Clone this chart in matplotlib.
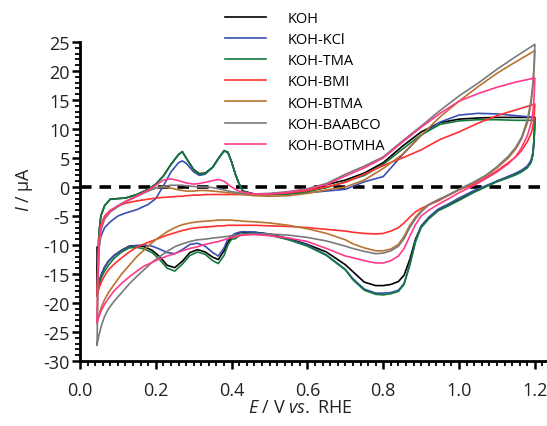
import matplotlib
matplotlib.use("Agg")
import matplotlib.pyplot as plt
from matplotlib.ticker import MultipleLocator

plt.rcParams['font.family'] = ['Open Sans', 'DejaVu Sans']
plt.rcParams['mathtext.fontset'] = 'custom'
plt.rcParams['mathtext.it'] = 'Open Sans:italic'
plt.rcParams['mathtext.rm'] = 'Open Sans'

labels = ["KOH", "KOH-KCl", "KOH-TMA", "KOH-BMI", "KOH-BTMA", "KOH-BAABCO", "KOH-BOTMHA"]
colors = ["#000000", "#3a4fb0", "#137a3c", "#ff3030", "#b87330", "#7a7a7a", "#ff3a8a"]

# anodic sweep potentials (V vs RHE)
E_anodic = [0.045, 0.047, 0.05, 0.055, 0.065, 0.08, 0.10, 0.12, 0.15, 0.18, 0.20, 0.22, 0.24, 0.26,
            0.27, 0.28, 0.30, 0.315, 0.33, 0.35, 0.365, 0.38, 0.39, 0.40, 0.41, 0.42, 0.43, 0.46,
            0.50, 0.55, 0.60, 0.65, 0.70, 0.75, 0.80, 0.85, 0.90, 0.95, 1.00, 1.05, 1.10, 1.15, 1.20]
# cathodic sweep potentials
E_cathodic = [1.20, 1.198, 1.195, 1.19, 1.18, 1.165, 1.15, 1.13, 1.10, 1.07, 1.04, 1.00, 0.97, 0.945,
              0.92, 0.90, 0.885, 0.87, 0.855, 0.84, 0.82, 0.80, 0.78, 0.75, 0.72, 0.70, 0.65, 0.60,
              0.55, 0.50, 0.46, 0.43, 0.42, 0.41, 0.40, 0.39, 0.38, 0.365, 0.35, 0.33, 0.31, 0.29,
              0.27, 0.25, 0.23, 0.21, 0.19, 0.17, 0.15, 0.13, 0.11, 0.09, 0.075, 0.065, 0.057, 0.05,
              0.047, 0.045]

# currents (uA), anodic sweeps
I_koh_a = [-17.2, -13, -8.0, -5.0, -3.2, -2.1, -2.0, -1.9, -1.3, -0.4, 0.5, 1.9, 3.9, 5.6,
           6.1, 5.0, 3.0, 2.3, 2.4, 3.4, 4.9, 6.2, 6.0, 4.3, 2.2, 0.5, -0.7, -1.2,
           -1.2, -1.0, -0.4, 0.4, 1.2, 2.4, 4.2, 7.0, 9.5, 11.1, 11.7, 11.9, 12.0, 12.0, 12.0]
I_kcl_a = [-18.3, -14, -10.5, -8.5, -7.0, -6.0, -5.0, -4.5, -3.9, -3.0, -2.0, 0.2, 2.6, 4.2,
           4.5, 4.1, 2.6, 2.0, 2.2, 3.4, 4.9, 6.2, 6.0, 4.3, 2.2, 0.5, -0.8, -1.3,
           -1.3, -1.2, -1.0, -0.7, -0.4, 0.9, 1.8, 5.5, 8.9, 11.2, 12.4, 12.7, 12.6, 12.3, 12.0]
I_tma_a = [-18.8, -13, -8.0, -5.0, -3.2, -2.1, -2.0, -1.9, -1.3, -0.4, 0.5, 1.9, 3.9, 5.6,
           6.1, 5.0, 2.9, 2.2, 2.3, 3.4, 4.9, 6.3, 6.0, 4.3, 2.2, 0.5, -0.8, -1.3,
           -1.3, -1.2, -0.8, -0.1, 0.9, 2.0, 3.9, 6.5, 9.0, 10.8, 11.4, 11.6, 11.6, 11.5, 11.5]
I_bmi_a = [-18.5, -13, -9.0, -6.5, -5.0, -4.0, -3.3, -2.8, -2.4, -2.1, -1.9, -1.8, -1.7, -1.6,
           -1.6, -1.5, -1.4, -1.4, -1.3, -1.3, -1.3, -1.3, -1.3, -1.3, -1.3, -1.3, -1.3, -1.3,
           -1.2, -1.0, -0.6, 0.0, 0.8, 2.2, 3.7, 5.0, 6.4, 8.2, 9.5, 11.0, 12.3, 13.3, 14.3]
I_btma_a = [-23.5, -16, -10, -7.0, -5.3, -4.2, -3.3, -2.5, -1.5, -0.6, -0.1, 0.0, -0.2, -0.5,
            -0.6, -0.7, -0.7, -0.6, -0.6, -0.7, -0.8, -0.9, -1.0, -1.0, -1.1, -1.2, -1.3, -1.5,
            -1.6, -1.5, -1.1, -0.5, 0.0, 1.2, 3.2, 5.6, 8.9, 12.1, 14.8, 17.3, 19.6, 21.6, 23.5]
I_baabco_a = [-27.2, -18, -11, -7.5, -5.5, -4.3, -3.4, -2.6, -1.6, -0.7, -0.2, 0.1, 0.3, 0.3,
              0.3, 0.2, 0.1, 0.0, 0.0, -0.1, -0.3, -0.5, -0.7, -0.8, -0.9, -1.0, -1.1, -1.2,
              -1.1, -0.8, -0.3, 0.6, 2.2, 3.6, 5.2, 7.9, 10.5, 13.2, 15.7, 17.9, 20.3, 22.5, 24.6]
I_botmha_a = [-23.2, -16, -10, -7.0, -5.3, -4.1, -3.2, -2.5, -1.6, -0.6, 0.3, 1.2, 1.4, 1.1,
              0.9, 0.7, 0.5, 0.6, 0.8, 1.1, 1.3, 1.0, 0.5, 0.0, -0.4, -0.7, -0.9, -1.2,
              -1.2, -0.9, -0.4, 0.4, 1.9, 3.3, 5.0, 7.7, 10.3, 12.7, 14.8, 16.1, 17.2, 18.1, 18.8]

# currents (uA), cathodic sweeps
I_koh_c = [12.0, 8.3, 5.8, 4.4, 3.5, 2.8, 2.3, 1.8, 1.0, 0.1, -0.8, -2.2, -3.2, -4.0,
           -5.4, -6.8, -9.0, -12.5, -15.2, -16.3, -16.8, -17.0, -17.0, -16.4, -14.6, -13.4, -11.2, -9.9,
           -8.9, -8.1, -7.8, -7.8, -7.9, -8.3, -8.7, -9.5, -11.0, -12.5, -12.1, -11.2, -10.8, -11.3,
           -12.8, -13.9, -13.5, -12.0, -10.9, -10.3, -10.1, -10.2, -10.9, -11.8, -12.8, -13.8, -15.0, -16.3,
           -17.0, -17.2]
I_kcl_c = [12.0, 8.5, 6.0, 4.6, 3.6, 2.9, 2.4, 1.8, 1.0, 0.2, -0.6, -1.9, -3.0, -3.8,
           -5.2, -6.7, -9.3, -13.3, -16.6, -17.8, -18.2, -18.3, -18.3, -17.6, -15.8, -14.2, -11.7, -10.0,
           -9.0, -8.2, -7.8, -7.7, -7.8, -8.0, -8.4, -9.0, -10.5, -11.9, -11.3, -10.2, -9.7, -9.9,
           -10.8, -11.5, -11.3, -10.7, -10.2, -10.0, -10.1, -10.3, -10.9, -11.8, -12.8, -13.8, -15.0, -16.5,
           -17.5, -18.3]
I_tma_c = [11.5, 8.0, 5.5, 4.2, 3.3, 2.6, 2.1, 1.6, 0.9, 0.0, -0.9, -2.3, -3.3, -4.1,
           -5.5, -7.0, -9.5, -13.5, -16.8, -18.0, -18.4, -18.6, -18.5, -17.8, -16.0, -14.3, -11.8, -10.2,
           -9.1, -8.3, -8.0, -8.1, -8.4, -8.9, -9.0, -10.0, -11.8, -13.2, -12.7, -11.6, -11.2, -11.8,
           -13.3, -14.5, -14.0, -12.5, -11.3, -10.7, -10.4, -10.5, -11.2, -12.3, -13.5, -14.5, -15.5, -17.0,
           -18.0, -18.8]
I_bmi_c = [14.3, 12.0, 10.5, 9.2, 7.8, 6.3, 5.2, 4.2, 2.8, 1.6, 0.5, -0.5, -1.5, -2.4,
           -3.1, -3.7, -4.3, -5.2, -6.2, -7.0, -7.6, -8.0, -8.1, -8.0, -7.8, -7.6, -7.3, -7.0,
           -6.8, -6.7, -6.6, -6.6, -6.6, -6.6, -6.6, -6.6, -6.7, -6.7, -6.8, -6.9, -7.0, -7.2,
           -7.5, -7.9, -8.3, -8.8, -9.3, -9.8, -10.4, -11.2, -12.2, -13.3, -14.3, -15.3, -16.3, -17.5,
           -18.2, -18.5]
I_btma_c = [23.5, 20.5, 17.5, 14.5, 11.0, 8.3, 6.6, 5.0, 3.3, 1.9, 0.8, -0.5, -1.5, -2.2,
            -3.0, -4.1, -5.2, -6.6, -8.5, -9.9, -10.7, -11.0, -11.0, -10.5, -9.8, -9.1, -8.0, -7.2,
            -6.6, -6.2, -6.0, -5.9, -5.8, -5.8, -5.7, -5.7, -5.7, -5.7, -5.8, -5.9, -6.0, -6.2,
            -6.5, -7.0, -7.7, -8.6, -9.6, -10.8, -12.0, -13.5, -15.0, -16.8, -18.2, -19.4, -20.6, -22.0,
            -23.0, -23.5]
I_baabco_c = [24.6, 21.0, 18.0, 15.0, 11.5, 8.6, 6.9, 5.3, 3.5, 2.0, 0.9, -0.4, -1.4, -2.2,
              -3.1, -4.3, -5.5, -7.0, -8.9, -10.2, -11.0, -11.4, -11.5, -11.1, -10.6, -10.2, -9.3, -8.7,
              -8.3, -8.1, -8.1, -8.2, -8.2, -8.3, -8.4, -8.5, -8.6, -8.7, -8.8, -9.0, -9.1, -9.4,
              -9.8, -10.3, -11.1, -12.0, -13.0, -14.2, -15.4, -16.7, -18.2, -19.7, -21.0, -22.3, -23.8, -25.5,
              -26.5, -27.2]
I_botmha_c = [18.8, 15.5, 13.0, 11.0, 8.8, 6.8, 5.3, 4.0, 2.6, 1.4, 0.3, -1.0, -2.1, -3.0,
              -4.0, -5.0, -6.5, -8.5, -10.6, -11.9, -12.7, -13.1, -13.1, -12.7, -12.2, -11.9, -10.6, -9.4,
              -8.8, -8.4, -8.2, -8.3, -8.4, -8.6, -8.7, -8.9, -9.1, -9.4, -9.6, -9.9, -10.3, -10.6,
              -11.0, -11.5, -11.9, -12.4, -13.0, -13.6, -14.5, -15.5, -16.6, -17.9, -19.2, -20.2, -21.2, -22.3,
              -22.9, -23.2]

# starting point of the KOH scan
koh_start_E = [0.045]
koh_start_I = [-10.4]

anodic = [I_koh_a, I_kcl_a, I_tma_a, I_bmi_a, I_btma_a, I_baabco_a, I_botmha_a]
cathodic = [I_koh_c, I_kcl_c, I_tma_c, I_bmi_c, I_btma_c, I_baabco_c, I_botmha_c]

fig = plt.figure(figsize=(5.47, 4.27), dpi=100)
ax = fig.add_axes([80 / 547, 65 / 427, 467 / 547, 319 / 427])

ax.axhline(0, color='black', lw=2.6, ls=(0, (3.2, 2.2)), zorder=1)

for i, (lab, col, ia, ic) in enumerate(zip(labels, colors, anodic, cathodic)):
    E = E_anodic + E_cathodic
    I = ia + ic
    if i == 0:
        E = koh_start_E + E
        I = koh_start_I + I
    ax.plot(E, I, color=col, lw=1.2, label=lab, zorder=2 + i)

ax.set_xlim(0, 1.232)
ax.set_ylim(-30, 25)
ax.xaxis.set_major_locator(MultipleLocator(0.2))
ax.xaxis.set_minor_locator(MultipleLocator(0.02))
ax.yaxis.set_major_locator(MultipleLocator(5))
ax.yaxis.set_minor_locator(MultipleLocator(1))
ax.xaxis.set_major_formatter(plt.FuncFormatter(lambda v, p: f"{v:.1f}"))
ax.yaxis.set_major_formatter(plt.FuncFormatter(lambda v, p: f"{v:.0f}"))

for s in ['top', 'right']:
    ax.spines[s].set_visible(False)
for s in ['left', 'bottom']:
    ax.spines[s].set_linewidth(2.0)
ax.tick_params(which='major', direction='out', length=5.5, width=1.8, labelsize=13,
               colors='black', labelcolor='#222222')
ax.tick_params(axis='y', which='major', pad=2)
ax.tick_params(axis='x', which='major', pad=9)
ax.tick_params(which='minor', direction='out', length=3.5, width=1.3)

ax.set_ylabel(r'$I$ / μA', fontsize=13, color='#222222')
ax.yaxis.set_label_coords(-0.097, 0.54)
ax.set_xlabel(r'$E$ / V $vs.$ RHE', fontsize=13, color='#222222', va='top')
ax.xaxis.set_label_coords(0.471, -0.117)

leg = ax.legend(loc='upper left', bbox_to_anchor=(225 / 547, 1 - 12 / 427),
                bbox_transform=fig.transFigure, frameon=False, fontsize=10.5,
                handlelength=2.8, handletextpad=1.5, labelspacing=0.42, borderaxespad=0,
                borderpad=0)

fig.savefig("out.png", dpi=100)
